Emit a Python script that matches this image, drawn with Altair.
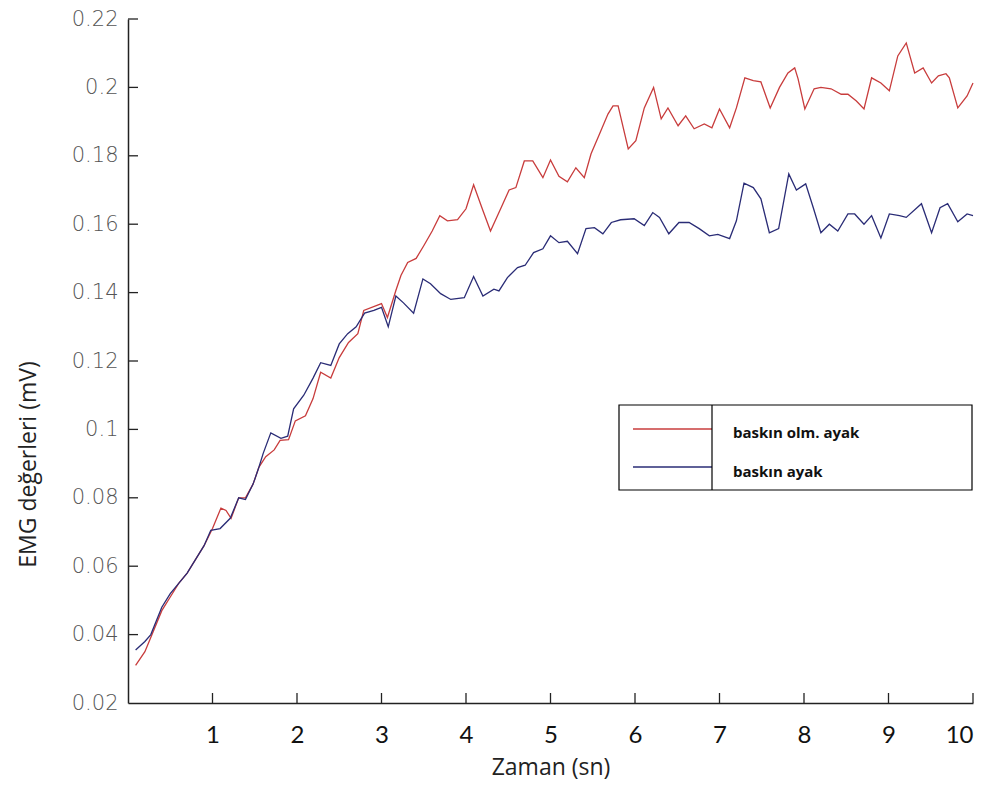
import altair as alt
import pandas as pd

# ---- data ----
red_name = "baskın olm. ayak"
blue_name = "baskın ayak"

red_t = [0.09, 0.2, 0.3, 0.4, 0.5, 0.6, 0.7, 0.8, 0.9, 1.0, 1.1, 1.16, 1.22, 1.31, 1.39,
         1.48, 1.55, 1.63, 1.73, 1.8, 1.9, 1.98, 2.1, 2.19, 2.28, 2.4, 2.5, 2.61, 2.72,
         2.79, 3.0, 3.07, 3.17, 3.23, 3.31, 3.41, 3.5, 3.6, 3.69, 3.78, 3.9, 4.0, 4.09,
         4.2, 4.29, 4.41, 4.51, 4.59, 4.69, 4.79, 4.91, 5.0, 5.1, 5.2, 5.3, 5.4, 5.48,
         5.57, 5.68, 5.74, 5.8, 5.92, 6.01, 6.11, 6.22, 6.31, 6.39, 6.51, 6.6, 6.7, 6.82,
         6.91, 7.0, 7.12, 7.2, 7.3, 7.4, 7.49, 7.6, 7.71, 7.81, 7.89, 7.93, 8.01, 8.12,
         8.2, 8.32, 8.44, 8.52, 8.62, 8.71, 8.8, 8.91, 9.01, 9.11, 9.21, 9.31, 9.41,
         9.51, 9.59, 9.68, 9.72, 9.82, 9.93, 10.0]
red_v = [0.031, 0.035, 0.041, 0.047, 0.051, 0.055, 0.058, 0.062, 0.066, 0.071, 0.077,
         0.0763, 0.074, 0.080, 0.080, 0.084, 0.089, 0.092, 0.094, 0.0968, 0.097, 0.1025,
         0.104, 0.109, 0.1167, 0.115, 0.121, 0.1254, 0.128, 0.1348, 0.1368, 0.1327,
         0.1406, 0.145, 0.1488, 0.150, 0.1537, 0.158, 0.1625, 0.161, 0.1613, 0.1645,
         0.1715, 0.164, 0.158, 0.1645, 0.170, 0.1707, 0.1785, 0.1785, 0.1736, 0.1788,
         0.174, 0.1724, 0.1765, 0.1736, 0.1806, 0.1858, 0.1922, 0.1946, 0.1946, 0.182,
         0.1844, 0.194, 0.200, 0.1908, 0.194, 0.1888, 0.1917, 0.1879, 0.1893, 0.1882,
         0.1937, 0.1882, 0.194, 0.2028, 0.202, 0.2016, 0.194, 0.200, 0.2042, 0.2057,
         0.2025, 0.1937, 0.1996, 0.200, 0.1996, 0.198, 0.198, 0.196, 0.1937, 0.2028,
         0.2013, 0.199, 0.2092, 0.213, 0.2042, 0.2057, 0.2013, 0.2034, 0.204, 0.2028,
         0.194, 0.1975, 0.2013]

blue_t = [0.09, 0.2, 0.27, 0.4, 0.5, 0.6, 0.7, 0.8, 0.9, 0.98, 1.09, 1.21, 1.31, 1.39,
          1.48, 1.55, 1.6, 1.69, 1.81, 1.89, 1.96, 2.08, 2.19, 2.28, 2.4, 2.5, 2.6, 2.7,
          2.8, 2.91, 3.0, 3.08, 3.17, 3.26, 3.38, 3.49, 3.58, 3.7, 3.82, 3.98, 4.09, 4.2,
          4.33, 4.39, 4.49, 4.61, 4.7, 4.8, 4.91, 5.0, 5.1, 5.2, 5.32, 5.42, 5.52, 5.62,
          5.72, 5.83, 5.99, 6.11, 6.21, 6.29, 6.4, 6.52, 6.64, 6.76, 6.88, 6.98, 7.12,
          7.2, 7.29, 7.4, 7.49, 7.59, 7.7, 7.82, 7.91, 8.02, 8.11, 8.2, 8.3, 8.4, 8.52,
          8.6, 8.71, 8.8, 8.91, 9.01, 9.13, 9.21, 9.39, 9.51, 9.61, 9.7, 9.82, 9.93, 10.0]
blue_v = [0.0355, 0.038, 0.040, 0.048, 0.052, 0.055, 0.058, 0.062, 0.066, 0.0705, 0.071,
          0.074, 0.080, 0.0795, 0.084, 0.089, 0.093, 0.099, 0.0974, 0.098, 0.106, 0.110,
          0.115, 0.1195, 0.1187, 0.125, 0.128, 0.130, 0.134, 0.1348, 0.1357, 0.130,
          0.139, 0.137, 0.134, 0.144, 0.1426, 0.1397, 0.138, 0.1385, 0.1447, 0.139,
          0.141, 0.1405, 0.1444, 0.1473, 0.148, 0.1517, 0.1528, 0.1566, 0.1546, 0.155,
          0.1514, 0.1587, 0.159, 0.1572, 0.1605, 0.1613, 0.1616, 0.1596, 0.1634, 0.162,
          0.1572, 0.1605, 0.1605, 0.1587, 0.1566, 0.157, 0.1558, 0.161, 0.172, 0.1707,
          0.1674, 0.1575, 0.1587, 0.1747, 0.170, 0.1718, 0.1648, 0.1575, 0.160, 0.158,
          0.163, 0.163, 0.160, 0.1625, 0.156, 0.163, 0.1625, 0.162, 0.166, 0.1575,
          0.1648, 0.166, 0.1607, 0.163, 0.1625]

x_ticks = [1, 2, 3, 4, 5, 6, 7, 8, 9, 10]
y_ticks = [0.02, 0.04, 0.06, 0.08, 0.1, 0.12, 0.14, 0.16, 0.18, 0.2, 0.22]

series_names = [red_name, blue_name]
series_colors = ["#c83c3c", "#2a2c76"]

# ---- tables ----
df = pd.concat([
    pd.DataFrame({"t": red_t, "v": red_v, "seri": red_name, "o": range(len(red_t))}),
    pd.DataFrame({"t": blue_t, "v": blue_v, "seri": blue_name, "o": range(len(blue_t))}),
])
xt = pd.DataFrame({"t": x_ticks})
yt = pd.DataFrame({"v": y_ticks[1:]})
one = pd.DataFrame({"k": [0]})
red_df = pd.DataFrame({"seri": [red_name]})
blue_df = pd.DataFrame({"seri": [blue_name]})

W, H = 845, 684
xscale = alt.Scale(domain=[0, 10], nice=False, zero=False)
yscale = alt.Scale(domain=[0.02, 0.22], nice=False, zero=False)
cscale = alt.Scale(domain=series_names, range=series_colors)

lines = alt.Chart(df).mark_line(strokeWidth=1.3).encode(
    x=alt.X("t:Q", scale=xscale,
            axis=alt.Axis(values=x_ticks, title="Zaman (sn)", format="d")),
    y=alt.Y("v:Q", scale=yscale,
            axis=alt.Axis(values=y_ticks, title="EMG değerleri (mV)", format=".2~f")),
    color=alt.Color("seri:N", scale=cscale, legend=None),
    order="o:Q",
)

xticks_inner = alt.Chart(xt).mark_rule(color="#222", strokeWidth=1.3).encode(
    x=alt.X("t:Q", scale=xscale), y=alt.value(H), y2=alt.value(H - 10))
yticks_inner = alt.Chart(yt).mark_rule(color="#222", strokeWidth=1.3).encode(
    y=alt.Y("v:Q", scale=yscale), x=alt.value(0), x2=alt.value(10))

# ---- legend (drawn as decoration) ----
legend_box = alt.Chart(one).mark_rect(fill="white", stroke="black", strokeWidth=1.2).encode(
    x=alt.value(491), x2=alt.value(844), y=alt.value(386), y2=alt.value(471))
leg_red = alt.Chart(red_df).mark_rule(strokeWidth=1.5).encode(
    x=alt.value(505), x2=alt.value(584), y=alt.value(410),
    color=alt.Color("seri:N", scale=cscale, legend=None))
leg_blue = alt.Chart(blue_df).mark_rule(strokeWidth=1.5).encode(
    x=alt.value(505), x2=alt.value(584), y=alt.value(448),
    color=alt.Color("seri:N", scale=cscale, legend=None))
legend_div = alt.Chart(one).mark_rule(color="black", strokeWidth=1.2).encode(
    x=alt.value(584), y=alt.value(386), y2=alt.value(471))
txt_style = dict(align="left", baseline="middle", font="Open Sans",
                 fontWeight="bold", fontSize=15, color="#111")
leg_red_txt = alt.Chart(red_df).mark_text(**txt_style).encode(
    x=alt.value(605), y=alt.value(414), text="seri:N")
leg_blue_txt = alt.Chart(blue_df).mark_text(**txt_style).encode(
    x=alt.value(605), y=alt.value(453), text="seri:N")

chart = alt.layer(
    lines, xticks_inner, yticks_inner, legend_box, leg_red, leg_blue, legend_div,
    leg_red_txt, leg_blue_txt,
).properties(
    width=W, height=H,
    autosize=alt.AutoSizeParams(type="none"),
    padding={"left": 120, "top": 11, "right": 14, "bottom": 85},
).configure_view(stroke=None).configure_axis(
    grid=False, ticks=False, domainColor="#222", domainWidth=1.5,
).configure_axisX(
    labelFont="Lato", labelFontSize=24, labelColor="#111", labelPadding=20,
    titleFont="Open Sans", titleFontSize=23, titleFontWeight="normal", titleColor="#222",
    titlePadding=9,
).configure_axisY(
    labelFont="DejaVu Sans", labelFontWeight=300,
    labelFontSize=21, labelColor="#555", labelPadding=10,
    titleFont="Open Sans", titleFontSize=23, titleFontWeight="normal", titleColor="#222",
    titleX=-93, titleY=445, titleAngle=270, titleAlign="center",
    titleBaseline="alphabetic",
)

chart.save("out.html", embed_options={"renderer": "svg", "actions": False})
